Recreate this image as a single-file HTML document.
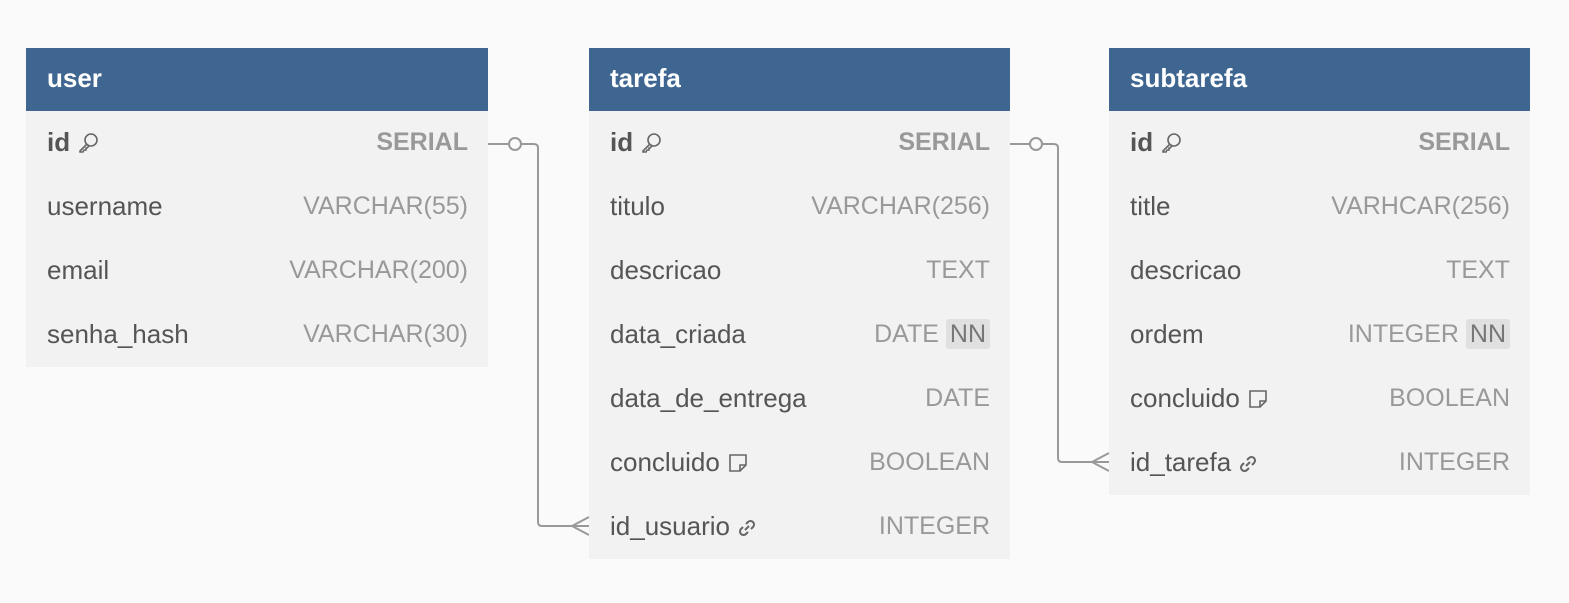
<!DOCTYPE html>
<html><head><meta charset="utf-8"><style>
body{margin:0;width:1569px;height:603px;background:#fafafa;font-family:"Liberation Sans",sans-serif;position:relative;overflow:hidden}
.t{position:absolute;top:48px;background:#f2f2f2}
.h{height:63px;background:#3f6591;color:#fff;font-weight:bold;font-size:26px;line-height:61px;padding-left:21px}
.r{height:64px;line-height:62px;position:relative;font-size:26px;color:#555;padding-left:21px;white-space:nowrap}
.r .ty{position:absolute;right:20px;top:0;color:#999;font-size:25px}
.b{font-weight:bold}
.nn{background:#e0e0e0;color:#777;padding:0 4px;border-radius:3px;display:inline-block;line-height:30px}
svg.i{vertical-align:-3px;margin-left:7px}
</style></head><body>
<svg width="1569" height="603" style="position:absolute;left:0;top:0" fill="none" stroke="#999" stroke-width="2">
<path d="M488 144H509M521 144H534Q538 144 538 148V522Q538 526 542 526H589"/>
<circle cx="515" cy="144" r="6" fill="#fafafa"/>
<path d="M589 517L572 526L589 535"/>
<path d="M1010 144H1030M1042 144H1054Q1058 144 1058 148V458Q1058 462 1062 462H1109"/>
<circle cx="1036" cy="144" r="6" fill="#fafafa"/>
<path d="M1109 453L1092 462L1109 471"/>
</svg>
<div class="t" style="left:26px;width:462px">
<div class="h">user</div>
<div class="r b">id<svg class="i" width="22" height="22" viewBox="0 0 22 22" fill="none" stroke="#666" stroke-width="1.6"><circle cx="14" cy="8" r="6"/><path d="M10 12L3 19V20H6L7 18H9V16H10L12 14"/></svg><span class="ty">SERIAL</span></div>
<div class="r">username<span class="ty">VARCHAR(55)</span></div>
<div class="r">email<span class="ty">VARCHAR(200)</span></div>
<div class="r">senha_hash<span class="ty">VARCHAR(30)</span></div>
</div>
<div class="t" style="left:589px;width:421px">
<div class="h">tarefa</div>
<div class="r b">id<svg class="i" width="22" height="22" viewBox="0 0 22 22" fill="none" stroke="#666" stroke-width="1.6"><circle cx="14" cy="8" r="6"/><path d="M10 12L3 19V20H6L7 18H9V16H10L12 14"/></svg><span class="ty">SERIAL</span></div>
<div class="r">titulo<span class="ty">VARCHAR(256)</span></div>
<div class="r">descricao<span class="ty">TEXT</span></div>
<div class="r">data_criada<span class="ty">DATE <span class="nn">NN</span></span></div>
<div class="r">data_de_entrega<span class="ty">DATE</span></div>
<div class="r">concluido<svg class="i" width="22" height="22" viewBox="0 0 22 22" fill="none" stroke="#666" stroke-width="1.6"><path d="M3 3H19V13L13 19H3Z"/><path d="M13 19V13H19"/></svg><span class="ty">BOOLEAN</span></div>
<div class="r">id_usuario<svg class="i" width="20" height="20" viewBox="0 0 20 20" fill="none" stroke="#666" stroke-width="2"><path d="M8 12L12 8"/><path d="M9 6L11 4A3 3 0 0 1 16 9L14 11"/><path d="M11 14L9 16A3 3 0 0 1 4 11L6 9"/></svg><span class="ty">INTEGER</span></div>
</div>
<div class="t" style="left:1109px;width:421px">
<div class="h">subtarefa</div>
<div class="r b">id<svg class="i" width="22" height="22" viewBox="0 0 22 22" fill="none" stroke="#666" stroke-width="1.6"><circle cx="14" cy="8" r="6"/><path d="M10 12L3 19V20H6L7 18H9V16H10L12 14"/></svg><span class="ty">SERIAL</span></div>
<div class="r">title<span class="ty">VARHCAR(256)</span></div>
<div class="r">descricao<span class="ty">TEXT</span></div>
<div class="r">ordem<span class="ty">INTEGER <span class="nn">NN</span></span></div>
<div class="r">concluido<svg class="i" width="22" height="22" viewBox="0 0 22 22" fill="none" stroke="#666" stroke-width="1.6"><path d="M3 3H19V13L13 19H3Z"/><path d="M13 19V13H19"/></svg><span class="ty">BOOLEAN</span></div>
<div class="r">id_tarefa<svg class="i" width="20" height="20" viewBox="0 0 20 20" fill="none" stroke="#666" stroke-width="2"><path d="M8 12L12 8"/><path d="M9 6L11 4A3 3 0 0 1 16 9L14 11"/><path d="M11 14L9 16A3 3 0 0 1 4 11L6 9"/></svg><span class="ty">INTEGER</span></div>
</div>
</body></html>
